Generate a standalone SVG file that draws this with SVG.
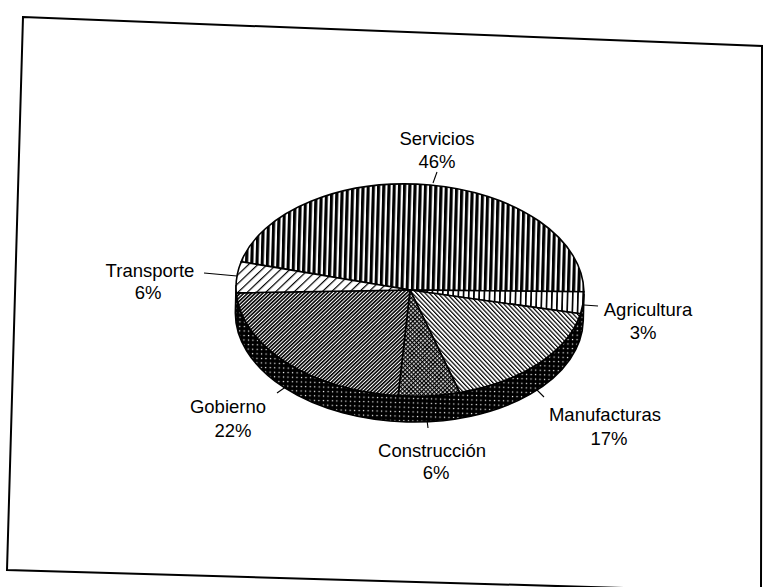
<svg xmlns="http://www.w3.org/2000/svg" width="763" height="587" viewBox="0 0 763 587">
<style>
.lbl{font-family:"Liberation Sans",Arial,Helvetica,sans-serif;font-size:18.5px;fill:#000;text-anchor:middle}
.sl{stroke:#000;stroke-width:1.6;stroke-linejoin:round}
.ld{stroke:#000;stroke-width:1.1;fill:none}
</style>
<defs>
<pattern id="pServ" patternUnits="userSpaceOnUse" width="5.2" height="10"><rect width="5.2" height="10" fill="#fff"/><rect x="0" y="0" width="3.1" height="10" fill="#000"/></pattern>
<pattern id="pAgri" patternUnits="userSpaceOnUse" width="5.2" height="10"><rect width="5.2" height="10" fill="#fff"/><rect x="0" y="0" width="1.7" height="10" fill="#000"/></pattern>
<pattern id="pManu" patternUnits="userSpaceOnUse" width="3.1" height="10" patternTransform="rotate(-45)"><rect width="3.1" height="10" fill="#fff"/><rect x="0" y="0" width="1.2" height="10" fill="#000"/></pattern>
<pattern id="pGob" patternUnits="userSpaceOnUse" width="2.6" height="10" patternTransform="rotate(45)"><rect width="2.6" height="10" fill="#fff"/><rect x="0" y="0" width="1.6" height="10" fill="#000"/></pattern>
<pattern id="pTrans" patternUnits="userSpaceOnUse" width="6.4" height="10" patternTransform="rotate(45)"><rect width="6.4" height="10" fill="#fff"/><rect x="0" y="0" width="1.2" height="10" fill="#000"/></pattern>
<pattern id="pCons" patternUnits="userSpaceOnUse" width="3" height="3" patternTransform="rotate(45)"><rect width="3" height="3" fill="#fff"/><rect x="0" y="0" width="1.3" height="3" fill="#000"/><rect x="0" y="0" width="3" height="1.3" fill="#000"/></pattern>
<pattern id="pSide" patternUnits="userSpaceOnUse" width="4.5" height="4.5"><rect width="4.5" height="4.5" fill="#000"/><rect x="1.7" y="1.7" width="1.2" height="1.2" fill="#fff"/></pattern>
</defs>
<rect width="763" height="587" fill="#fff"/>
<polygon points="23,17 762,46 761,592 7,570" fill="none" stroke="#000" stroke-width="2"/>
<g id="pie-side" transform="rotate(1.5 410 290)">
<path class="sl" fill="url(#pSide)" d="M584,290 A174,106 0 0 1 236,290 L236,316 A174,106 0 0 0 584,316 Z"/>
</g>
<g id="node-servicios">
<path class="sl" fill="url(#pServ)" transform="rotate(1.5 410 290)" d="M410,290 L240.46,266.16 A174,106 0 0 1 583.94,287.22 Z"/>
<text class="lbl" x="437" y="145">Servicios</text>
<text class="lbl" x="437" y="168">46%</text>
</g>
<g id="node-agricultura">
<path class="sl" fill="url(#pAgri)" transform="rotate(1.5 410 290)" d="M410,290 L583.94,287.22 A174,106 0 0 1 581.09,309.32 Z"/>
<text class="lbl" x="648" y="316">Agricultura</text>
<text class="lbl" x="643" y="339">3%</text>
</g>
<g id="node-manufacturas">
<path class="sl" fill="url(#pManu)" transform="rotate(1.5 410 290)" d="M410,290 L581.09,309.32 A174,106 0 0 1 462.32,391.09 Z"/>
<text class="lbl" x="605" y="421">Manufacturas</text>
<text class="lbl" x="609" y="445">17%</text>
</g>
<g id="node-construccion">
<path class="sl" fill="url(#pCons)" transform="rotate(1.5 410 290)" d="M410,290 L462.32,391.09 A174,106 0 0 1 400.89,395.85 Z"/>
<text class="lbl" x="432" y="457">Construcción</text>
<text class="lbl" x="436" y="479">6%</text>
</g>
<g id="node-gobierno">
<path class="sl" fill="url(#pGob)" transform="rotate(1.5 410 290)" d="M410,290 L400.89,395.85 A174,106 0 0 1 236.42,297.39 Z"/>
<text class="lbl" x="228" y="413">Gobierno</text>
<text class="lbl" x="233" y="437">22%</text>
</g>
<g id="node-transporte">
<path class="sl" fill="url(#pTrans)" transform="rotate(1.5 410 290)" d="M410,290 L236.42,297.39 A174,106 0 0 1 240.46,266.16 Z"/>
<text class="lbl" x="150" y="277">Transporte</text>
<text class="lbl" x="148" y="299">6%</text>
</g>
<g id="connectors">
<line class="ld" x1="433" y1="183" x2="437" y2="172"/>
<line class="ld" x1="204" y1="273" x2="237" y2="276"/>
<line class="ld" x1="584" y1="305" x2="598" y2="306"/>
<line class="ld" x1="277" y1="393" x2="287" y2="386"/>
<line class="ld" x1="537" y1="390" x2="544" y2="397"/>
<line class="ld" x1="427" y1="420" x2="428" y2="428"/>
</g>
</svg>
